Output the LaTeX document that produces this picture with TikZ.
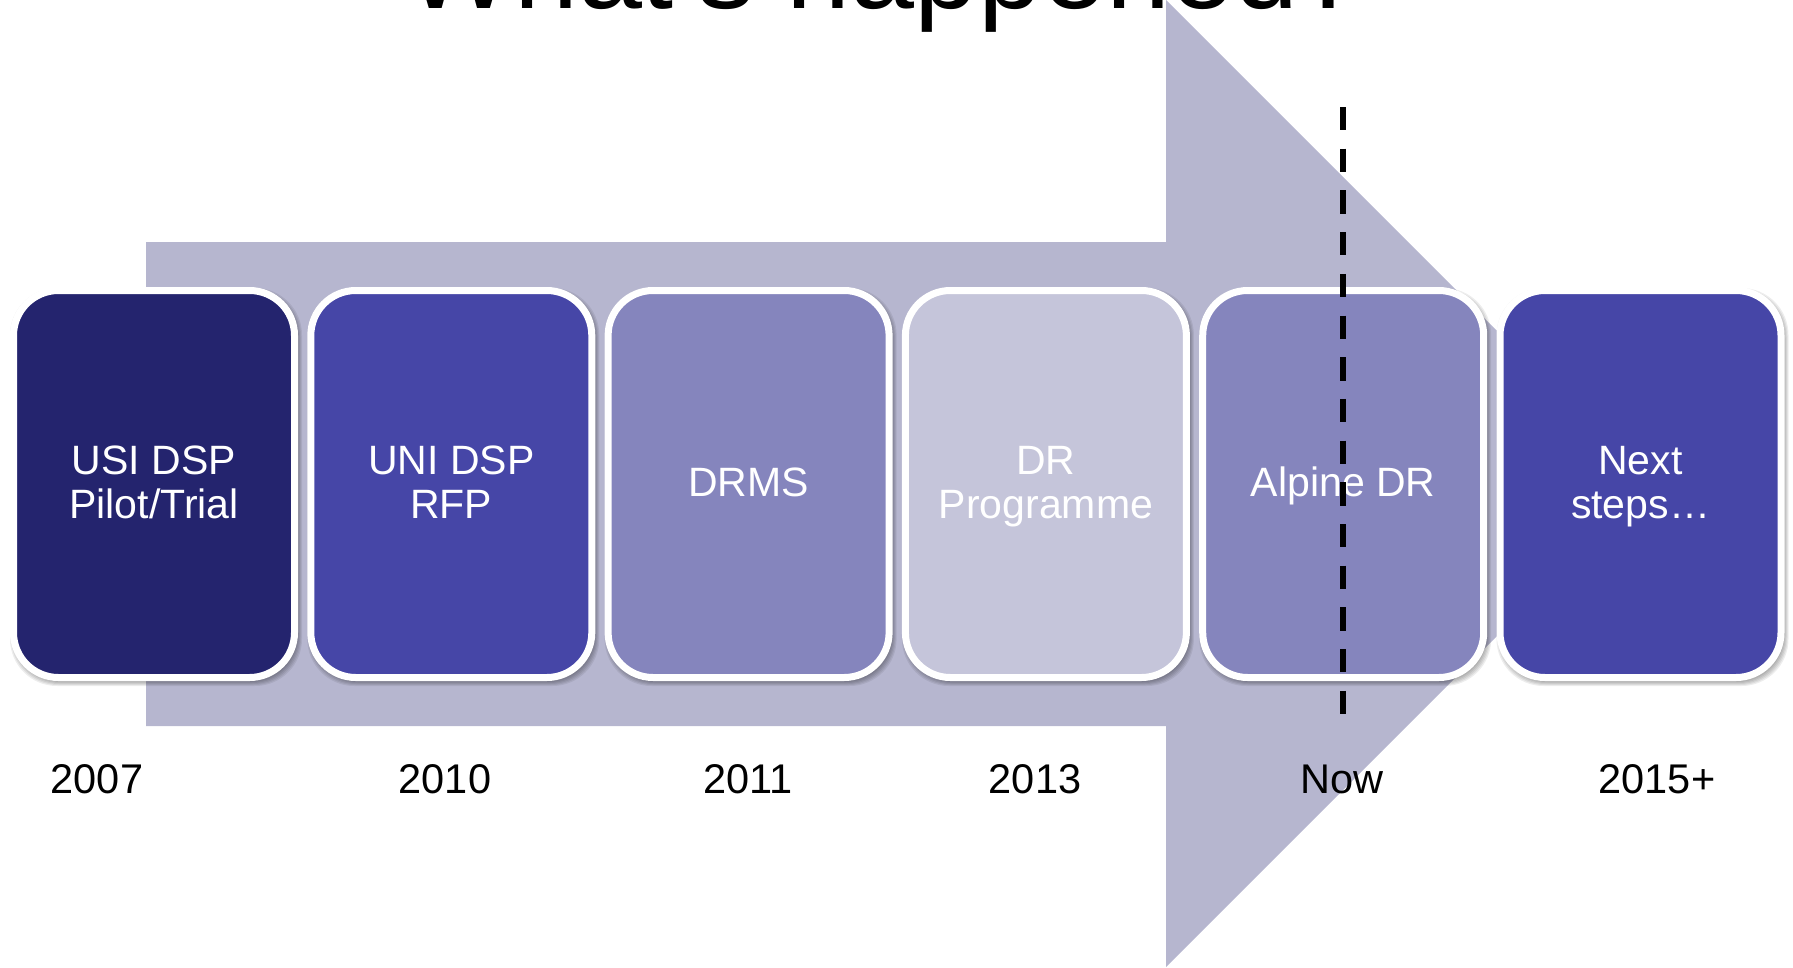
\documentclass[tikz,border=0pt]{standalone}
\usepackage{fontspec}
\setmainfont{Liberation Sans}
% fixed line box so every card's lines sit at the same heights
\newcommand\cardstrut{\rule[-10pt]{0pt}{44pt}}
\begin{document}
\begin{tikzpicture}[x=1pt,y=-1pt,
  card/.style={draw=white, line width=7pt, rounded corners=45pt,
    minimum width=281pt, minimum height=387pt, inner sep=0pt,
    align=center, text=white, font=\fontsize{41}{44}\selectfont},
  yearlabel/.style={anchor=base, inner sep=0pt, text=black,
    font=\fontsize{41.5}{44}\selectfont},
  nowline/.style={draw=black, line width=6.7pt,
    dash pattern=on 23.3pt off 18.4pt}]
\definecolor{arrowfill}{HTML}{B6B6CF}
\definecolor{navy}{HTML}{24246E}
\definecolor{indigo}{HTML}{4646A7}
\definecolor{lavender}{HTML}{8585BD}
\definecolor{pale}{HTML}{C5C5DA}

\useasboundingbox (0,0) rectangle (1793,967);
\clip (0,0) rectangle (1793,967);

% heading, mostly above the top edge
\node[anchor=base, inner sep=0pt, font=\fontsize{115}{138}\selectfont]
  (heading) at (884,8) {What’s happened?};

% broad timeline arrow
\fill[arrowfill] (146,242) -- (1166,242) -- (1166,0) -- (1649.5,483.5)
  -- (1166,967) -- (1166,726) -- (146,726) -- cycle;

% soft shadows under the cards
\foreach \i in {0,...,5} {
  \pgfmathsetmacro\cx{154+297.3*\i}
  \foreach \k in {0,1,2,3,4} {
    \fill[black, opacity=0.07, rounded corners=47pt]
      (\cx-144+2-\k+2, 287+3-\k+2) rectangle (\cx+144+2+\k-2, 681+3+\k-2);
  }
}

% milestone cards
\node[card, fill=navy]     (c1) at (154.0,484) {USI DSP\cardstrut\\Pilot/Trial\cardstrut};
\node[card, fill=indigo]   (c2) at (451.3,484) {UNI DSP\cardstrut\\RFP\cardstrut};
\node[card, fill=lavender] (c3) at (748.6,484) {DRMS\cardstrut};
\node[card, fill=pale]     (c4) at (1045.9,484) {DR\cardstrut\\Programme\cardstrut};
\node[card, fill=lavender] (c5) at (1343.2,484) {Alpine DR\cardstrut};
\node[card, fill=indigo]   (c6) at (1640.5,484) {Next\cardstrut\\steps…\cardstrut};

% marker for the present
\coordinate (nowtop) at (1343,107);
\coordinate (nowbot) at (1343,718);
\draw[nowline] (nowtop) -- (nowbot);

% dates under the cards
\node[yearlabel] (y1) at (97,793)   {2007};
\node[yearlabel] (y2) at (445,793)  {2010};
\node[yearlabel] (y3) at (748,793)  {2011};
\node[yearlabel] (y4) at (1035,793) {2013};
\node[yearlabel] (y5) at (1342,793) {Now};
\node[yearlabel] (y6) at (1657,793) {2015+};
\end{tikzpicture}
\end{document}
